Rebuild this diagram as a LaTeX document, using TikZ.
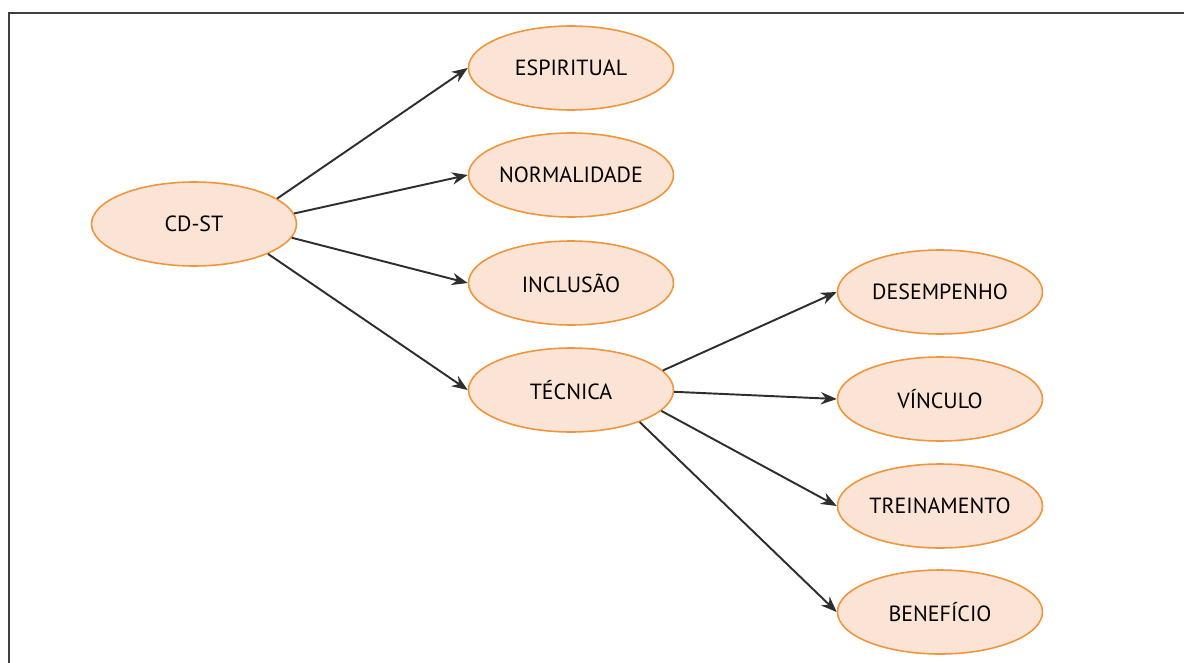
\documentclass[tikz,border=0pt]{standalone}
\usepackage{fontspec}
\setmainfont{PT Sans}
\usepackage{xcolor}
\usepackage{tikz}
\usetikzlibrary{shapes.geometric,arrows.meta}

\definecolor{peach}{HTML}{FBE3D6}
\definecolor{orangeline}{HTML}{F0953A}
\definecolor{darkline}{HTML}{2E2E2E}

\begin{document}
\begin{tikzpicture}[
    elli/.style={shape=ellipse,draw=orangeline,fill=peach,line width=0.9pt,
        minimum width=4.1cm,minimum height=1.68cm,inner sep=0pt,
        font=\fontsize{12.5}{14}\selectfont,text=black},
    arr/.style={draw=darkline,line width=1.1pt,-{Stealth[length=9pt,width=7pt]}}
]
    \useasboundingbox (0,0) rectangle (23.68,13.24);
    \clip (0,0) rectangle (23.68,13.24);
    \draw[line width=1.7pt,draw=black!75] (0.18,-1) -- (0.18,12.98) -- (25,12.98);

    \node[elli] (cd) at (3.88,8.76) {CD-ST};
    \node[elli] (esp) at (11.42,11.88) {ESPIRITUAL};
    \node[elli] (nor) at (11.42,9.74) {NORMALIDADE};
    \node[elli] (inc) at (11.42,7.58) {INCLUSÃO};
    \node[elli] (tec) at (11.42,5.44) {TÉCNICA};
    \node[elli] (des) at (18.8,7.40) {DESEMPENHO};
    \node[elli] (vin) at (18.8,5.26) {VÍNCULO};
    \node[elli] (tre) at (18.8,3.12) {TREINAMENTO};
    \node[elli] (ben) at (18.8,1.00) {BENEFÍCIO};

    \draw[arr] (cd.17) -- (esp.west);
    \draw[arr] (cd.6) -- (nor.west);
    \draw[arr] (cd.-8) -- (inc.west);
    \draw[arr] (cd.-22) -- (tec.west);
    \draw[arr] (tec.12) -- (des.west);
    \draw[arr] (tec.-1) -- (vin.west);
    \draw[arr] (tec.-13) -- (tre.west);
    \draw[arr] (tec.-25) -- (ben.west);
\end{tikzpicture}
\end{document}
